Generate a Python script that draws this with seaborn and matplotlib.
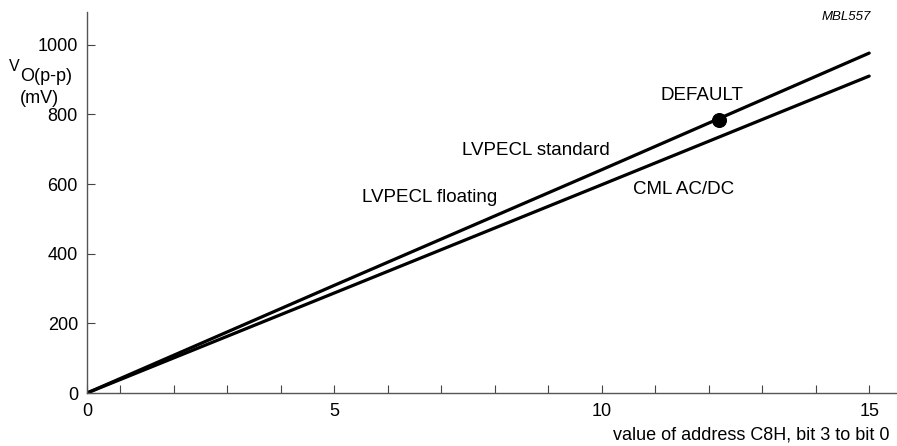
import matplotlib
matplotlib.use("Agg")
import matplotlib.pyplot as plt
import seaborn as sns
import pandas as pd
from matplotlib.ticker import FixedLocator, NullLocator

# ---- data ----
x_origin = 0.38                      # axis corner, labelled "0"
x_vals = [x_origin, 5, 10, 15]
lvpecl_vals = [0, 309, 641, 976]     # LVPECL standard / floating (mV)
cml_vals = [0, 287, 598, 910]        # CML AC/DC (mV)
default_x = [12.2]
default_y = [783]
x_tick_pos = [x_origin, 1, 2, 3, 4, 5, 6, 7, 8, 9, 10, 11, 12, 13, 14, 15]
x_tick_labels = ["0", "", "", "", "", "5", "", "", "", "", "10", "", "", "", "", "15"]
y_ticks = [0, 200, 400, 600, 800, 1000]

sns.set_theme(style="ticks")
plt.rcParams["font.family"] = ["Liberation Sans", "DejaVu Sans"]
plt.rcParams["text.color"] = "black"

W, H = 897, 446
fig = plt.figure(figsize=(W / 100, H / 100), dpi=100)
ax = fig.add_axes([87 / W, 53 / H, (W - 87) / W, (393 - 12) / H])

df = pd.DataFrame({
    "x": x_vals * 2,
    "y": lvpecl_vals + cml_vals,
    "series": ["LVPECL"] * len(x_vals) + ["CML"] * len(x_vals),
})
sns.lineplot(data=df, x="x", y="y", units="series", estimator=None,
             color="black", linewidth=2.3, ax=ax, legend=False)
sns.scatterplot(x=default_x, y=default_y, color="black", s=100,
                edgecolor="black", ax=ax, legend=False, zorder=5)

ax.set_xlim(x_origin, 15.52)
ax.set_ylim(0, 1094)
ax.set_xlabel("")
ax.set_ylabel("")

ax.xaxis.set_major_locator(FixedLocator(x_tick_pos))
ax.set_xticklabels(x_tick_labels)
ax.xaxis.set_minor_locator(NullLocator())
ax.set_yticks(y_ticks)
ax.set_yticklabels([str(v) for v in y_ticks])

for s in ["top", "right"]:
    ax.spines[s].set_visible(False)
for s in ["left", "bottom"]:
    ax.spines[s].set_color("#555555")
    ax.spines[s].set_linewidth(1.0)

ax.tick_params(axis="both", direction="in", length=6, width=0.8,
               color="#444444", labelsize=13, labelcolor="black")
ax.tick_params(axis="x", pad=7.5)
ax.tick_params(axis="y", pad=6.5)

def px(x, y):
    return x / W, 1 - y / H

# annotations
fig.text(*px(536, 150), "LVPECL standard", ha="center", va="center", fontsize=13.5)
fig.text(*px(430, 197), "LVPECL floating", ha="center", va="center", fontsize=13.5)
fig.text(*px(684, 190), "CML AC/DC", ha="center", va="center", fontsize=13.5)
fig.text(*px(702, 96), "DEFAULT", ha="center", va="center", fontsize=13.5)
fig.text(*px(871, 17), "MBL557", ha="right", va="center", fontsize=9.5, style="italic")

# y label
fig.text(*px(8.5, 70.7), "V", ha="left", va="baseline", fontsize=11.5)
fig.text(*px(20.5, 81), "O(p-p)", ha="left", va="baseline", fontsize=13)
fig.text(*px(39, 103), "(mV)", ha="center", va="baseline", fontsize=13)

# x label
fig.text(*px(889, 435), "value of address C8H, bit 3 to bit 0",
         ha="right", va="center", fontsize=13)

fig.savefig("out.png", dpi=100)
